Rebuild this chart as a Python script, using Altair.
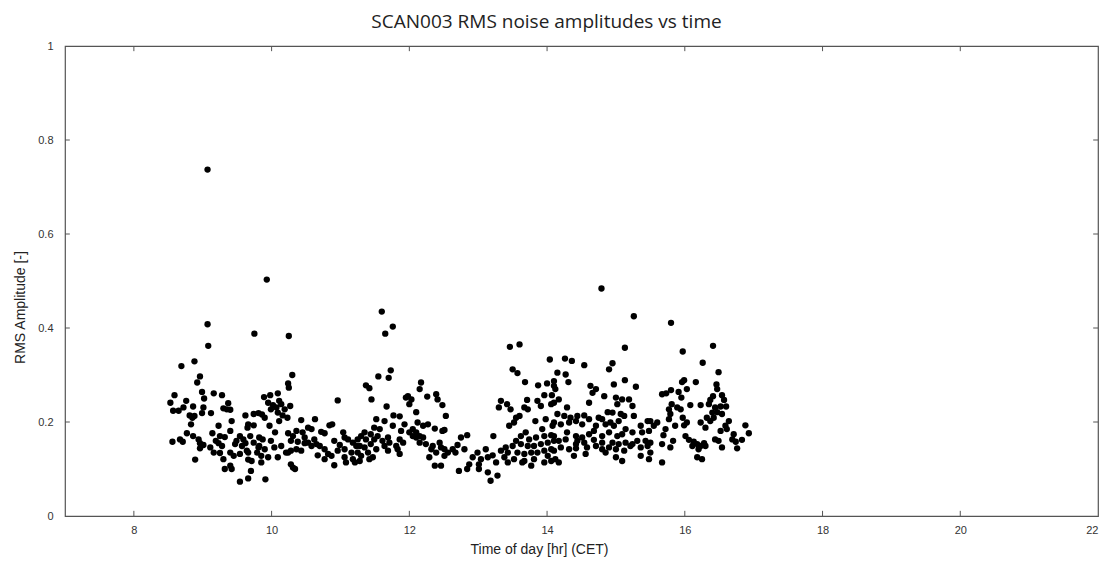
import altair as alt
import pandas as pd

# ---- data (time of day [hr], RMS amplitude [-]) ----
tA = [9.07, 9.07, 9.08, 9.75, 8.69, 8.88, 8.96, 8.92, 8.59, 8.53,
      8.99, 9.16, 9.28, 9.37, 8.76, 8.86, 9.02, 8.57, 8.65, 8.72,
      9.01, 8.99, 9.12, 9.30, 9.35, 9.40, 8.81, 8.85, 8.83, 8.88,
      9.62, 9.74, 9.81, 9.42, 9.66, 9.65, 9.74, 9.23, 9.14, 9.25,
      9.32, 9.40, 9.54, 9.59, 9.49, 9.47, 9.69, 8.77, 8.86, 8.94,
      8.96, 9.01, 8.56, 8.67, 8.71, 9.23, 9.28, 9.16, 9.25, 9.40,
      9.45, 9.57, 9.64, 9.54, 9.74, 9.81, 9.79, 9.66, 9.71, 9.30,
      9.40, 9.32, 9.42, 9.70, 9.66, 9.54, 8.89, 8.96, 9.11, 9.19,
      9.62, 9.66]
rA = [0.737, 0.408, 0.362, 0.388, 0.319, 0.329, 0.297, 0.284, 0.257, 0.241,
      0.264, 0.261, 0.257, 0.240, 0.245, 0.233, 0.250, 0.224, 0.224, 0.231,
      0.231, 0.219, 0.219, 0.229, 0.227, 0.226, 0.214, 0.209, 0.195, 0.213,
      0.214, 0.217, 0.219, 0.202, 0.195, 0.188, 0.193, 0.192, 0.176, 0.170,
      0.168, 0.181, 0.170, 0.163, 0.160, 0.153, 0.170, 0.176, 0.170, 0.163,
      0.155, 0.151, 0.158, 0.163, 0.158, 0.155, 0.149, 0.135, 0.134, 0.135,
      0.128, 0.149, 0.139, 0.132, 0.156, 0.146, 0.135, 0.120, 0.117, 0.121,
      0.107, 0.100, 0.100, 0.096, 0.080, 0.073, 0.120, 0.144, 0.146, 0.160,
      0.155, 0.135]

tB = [9.93, 10.25, 10.30, 10.24, 10.25, 9.89, 9.98, 10.09, 10.11, 9.95,
      10.02, 9.99, 10.07, 10.14, 10.19, 10.27, 10.09, 10.16, 10.23, 9.86,
      9.90, 10.11, 9.97, 10.96, 10.43, 10.63, 10.53, 10.84, 10.88, 10.05,
      10.24, 10.31, 10.36, 10.45, 10.58, 10.72, 10.77, 9.82, 9.87, 9.99,
      10.28, 10.38, 10.48, 10.62, 10.65, 10.70, 10.91, 11.04, 11.06, 10.99,
      11.11, 11.18, 11.23, 9.82, 9.90, 10.04, 10.14, 10.21, 10.28, 10.36,
      10.43, 10.58, 10.77, 10.82, 10.96, 11.06, 11.16, 9.85, 9.95, 10.09,
      10.24, 10.67, 10.77, 10.87, 11.06, 11.08, 11.18, 11.21, 9.85, 10.28,
      10.31, 10.34, 10.91, 9.91, 10.48, 10.53]
rB = [0.503, 0.383, 0.300, 0.282, 0.273, 0.253, 0.257, 0.261, 0.245, 0.241,
      0.236, 0.227, 0.231, 0.238, 0.227, 0.234, 0.220, 0.214, 0.209, 0.216,
      0.209, 0.202, 0.192, 0.246, 0.204, 0.206, 0.188, 0.193, 0.195, 0.178,
      0.176, 0.170, 0.181, 0.178, 0.185, 0.179, 0.176, 0.167, 0.163, 0.160,
      0.160, 0.158, 0.155, 0.163, 0.153, 0.149, 0.160, 0.178, 0.167, 0.151,
      0.163, 0.156, 0.149, 0.149, 0.142, 0.146, 0.149, 0.135, 0.139, 0.142,
      0.139, 0.149, 0.142, 0.132, 0.139, 0.142, 0.135, 0.128, 0.125, 0.125,
      0.135, 0.129, 0.121, 0.128, 0.125, 0.114, 0.121, 0.114, 0.114, 0.110,
      0.103, 0.100, 0.108, 0.078, 0.167, 0.156]

tC = [11.60, 11.76, 11.65, 11.73, 11.70, 11.55, 11.37, 11.42, 11.45, 12.17,
      12.15, 12.26, 11.98, 12.03, 11.95, 12.00, 12.39, 12.41, 12.48, 11.67,
      12.53, 12.10, 11.77, 11.86, 11.52, 11.64, 11.93, 11.88, 11.76, 12.12,
      12.20, 12.27, 12.37, 12.48, 12.51, 11.49, 11.57, 11.35, 11.44, 11.54,
      11.69, 12.00, 12.05, 12.10, 12.15, 12.20, 11.30, 11.25, 11.37, 11.49,
      11.61, 11.71, 11.86, 11.91, 12.15, 12.24, 12.34, 12.44, 12.46, 12.51,
      11.28, 11.35, 11.44, 11.52, 11.64, 11.69, 11.81, 11.86, 11.83, 12.32,
      12.39, 12.51, 12.56, 12.63, 11.25, 11.30, 11.40, 11.47, 11.42, 11.28,
      12.29, 12.37, 12.46, 12.05, 12.10]
rC = [0.435, 0.403, 0.388, 0.310, 0.294, 0.297, 0.278, 0.272, 0.248, 0.284,
      0.270, 0.254, 0.255, 0.248, 0.252, 0.238, 0.259, 0.248, 0.236, 0.233,
      0.213, 0.221, 0.214, 0.212, 0.206, 0.202, 0.195, 0.181, 0.192, 0.199,
      0.192, 0.195, 0.186, 0.181, 0.183, 0.188, 0.185, 0.178, 0.174, 0.170,
      0.167, 0.178, 0.170, 0.178, 0.170, 0.167, 0.170, 0.163, 0.163, 0.163,
      0.160, 0.156, 0.163, 0.156, 0.156, 0.153, 0.149, 0.156, 0.146, 0.142,
      0.149, 0.146, 0.153, 0.142, 0.149, 0.139, 0.149, 0.132, 0.142, 0.142,
      0.135, 0.128, 0.135, 0.142, 0.135, 0.128, 0.135, 0.125, 0.121, 0.117,
      0.125, 0.107, 0.107, 0.185, 0.167]

tD = [13.46, 13.60, 14.04, 13.50, 13.57, 13.68, 13.87, 14.00, 14.10, 13.96,
      14.07, 13.71, 13.86, 13.33, 13.30, 13.42, 13.47, 13.67, 13.72, 13.91,
      14.06, 13.55, 13.60, 13.45, 13.52, 13.83, 13.98, 13.22, 13.93, 14.08,
      12.84, 12.75, 12.70, 12.80, 12.67, 12.99, 13.11, 12.92, 13.04, 13.14,
      13.21, 13.33, 13.40, 13.43, 13.50, 13.55, 13.62, 13.69, 13.74, 13.84,
      13.96, 14.06, 13.62, 13.72, 13.81, 13.91, 14.01, 14.10, 13.57, 13.67,
      13.77, 13.86, 13.96, 14.06, 13.67, 13.81, 13.96, 14.06, 12.72, 12.84,
      13.01, 13.14, 13.18, 13.28, 13.43, 13.26, 12.87, 13.01, 13.64, 13.77,
      14.01, 13.52, 13.38]
rD = [0.360, 0.365, 0.333, 0.312, 0.304, 0.285, 0.278, 0.282, 0.287, 0.257,
      0.257, 0.247, 0.245, 0.245, 0.231, 0.238, 0.227, 0.231, 0.227, 0.234,
      0.238, 0.209, 0.213, 0.192, 0.199, 0.202, 0.206, 0.170, 0.185, 0.192,
      0.172, 0.167, 0.151, 0.142, 0.135, 0.135, 0.142, 0.125, 0.121, 0.125,
      0.129, 0.139, 0.146, 0.135, 0.149, 0.160, 0.170, 0.178, 0.163, 0.167,
      0.170, 0.172, 0.153, 0.149, 0.149, 0.153, 0.156, 0.160, 0.135, 0.132,
      0.135, 0.135, 0.139, 0.142, 0.117, 0.121, 0.114, 0.117, 0.096, 0.100,
      0.100, 0.093, 0.075, 0.086, 0.114, 0.114, 0.110, 0.110, 0.114, 0.107,
      0.128, 0.121, 0.125]

tE = [14.79, 15.26, 15.13, 14.95, 14.90, 14.54, 14.26, 14.36, 14.15, 14.27,
      14.31, 14.10, 14.12, 15.13, 15.29, 14.97, 14.63, 14.71, 14.83, 14.66,
      14.61, 14.17, 14.10, 14.29, 15.00, 15.09, 15.19, 15.02, 15.24, 14.95,
      15.07, 15.26, 14.15, 14.25, 14.34, 14.44, 14.54, 14.61, 14.75, 14.88,
      14.80, 14.71, 14.85, 15.04, 15.12, 14.92, 14.97, 15.14, 15.36, 15.46,
      14.10, 14.20, 14.32, 14.42, 14.51, 14.29, 14.42, 14.51, 14.61, 14.68,
      14.80, 14.90, 15.02, 15.09, 15.24, 15.38, 15.48, 14.10, 14.17, 14.27,
      14.44, 14.54, 14.68, 14.80, 14.95, 15.04, 15.14, 15.24, 15.31, 15.43,
      14.20, 14.32, 14.42, 14.58, 14.80, 14.90, 15.00, 15.12, 15.21, 15.36,
      15.46, 14.10, 14.12, 14.17, 14.39, 14.56, 14.85, 15.00, 15.09, 15.36,
      15.48, 14.42, 14.71]
rE = [0.484, 0.425, 0.358, 0.325, 0.312, 0.321, 0.335, 0.330, 0.305, 0.301,
      0.285, 0.277, 0.270, 0.289, 0.275, 0.280, 0.277, 0.270, 0.255, 0.262,
      0.241, 0.248, 0.241, 0.231, 0.252, 0.248, 0.248, 0.238, 0.234, 0.220,
      0.217, 0.213, 0.217, 0.213, 0.209, 0.213, 0.214, 0.206, 0.209, 0.221,
      0.206, 0.192, 0.195, 0.202, 0.213, 0.199, 0.192, 0.185, 0.192, 0.202,
      0.199, 0.195, 0.199, 0.202, 0.195, 0.178, 0.170, 0.167, 0.174, 0.181,
      0.170, 0.178, 0.170, 0.174, 0.178, 0.178, 0.181, 0.170, 0.160, 0.163,
      0.160, 0.156, 0.162, 0.156, 0.156, 0.153, 0.156, 0.153, 0.160, 0.160,
      0.146, 0.142, 0.144, 0.146, 0.142, 0.146, 0.142, 0.139, 0.149, 0.146,
      0.149, 0.139, 0.121, 0.114, 0.128, 0.132, 0.135, 0.125, 0.117, 0.128,
      0.121, 0.153, 0.149]

tF = [15.80, 16.41, 15.97, 16.26, 16.49, 15.99, 15.96, 16.16, 16.46, 16.47,
      15.67, 15.73, 15.80, 15.91, 16.03, 15.95, 16.41, 16.54, 16.37, 16.57,
      16.35, 15.81, 15.89, 16.08, 16.23, 15.77, 15.79, 15.94, 16.44, 16.52,
      16.60, 16.40, 16.47, 16.54, 16.32, 16.42, 15.77, 15.97, 16.03, 15.86,
      15.99, 16.64, 16.37, 16.23, 16.30, 16.59, 16.61, 16.52, 16.88, 16.93,
      15.72, 15.60, 15.55, 15.50, 15.69, 15.83, 16.01, 16.06, 16.13, 16.18,
      16.23, 16.28, 16.20, 15.67, 15.50, 16.44, 16.49, 16.69, 16.74, 16.83,
      16.76, 16.54, 15.79, 16.18, 16.25, 15.67, 15.50, 16.11, 16.30, 16.71]
rF = [0.411, 0.362, 0.350, 0.326, 0.306, 0.289, 0.285, 0.285, 0.280, 0.270,
      0.259, 0.261, 0.268, 0.264, 0.270, 0.252, 0.255, 0.257, 0.247, 0.247,
      0.238, 0.238, 0.231, 0.236, 0.236, 0.227, 0.217, 0.227, 0.231, 0.233,
      0.233, 0.220, 0.221, 0.217, 0.209, 0.209, 0.206, 0.209, 0.199, 0.192,
      0.193, 0.202, 0.202, 0.199, 0.188, 0.192, 0.185, 0.181, 0.193, 0.176,
      0.185, 0.199, 0.192, 0.202, 0.172, 0.160, 0.170, 0.162, 0.158, 0.153,
      0.149, 0.155, 0.142, 0.153, 0.156, 0.163, 0.160, 0.163, 0.158, 0.162,
      0.144, 0.146, 0.146, 0.125, 0.121, 0.114, 0.135, 0.149, 0.149, 0.174]

x_labels = [8, 10, 12, 14, 16, 18, 20, 22]
y_labels = [0, 0.2, 0.4, 0.6, 0.8, 1]
x_ticks = [8, 10, 12, 14, 16, 18, 20]
y_ticks = [0.2, 0.4, 0.6, 0.8]
x_domain = [7, 22]
y_domain = [0, 1]

df = pd.DataFrame({
    "time": tA + tB + tC + tD + tE + tF,
    "rms": rA + rB + rC + rD + rE + rF,
})
xt = pd.DataFrame({"time": x_ticks})
yt = pd.DataFrame({"rms": y_ticks})

xs = alt.Scale(domain=x_domain, nice=False, zero=False)
ys = alt.Scale(domain=y_domain, nice=False, zero=False)

x_axis = alt.Axis(values=x_labels, format="~g", title="Time of day [hr] (CET)",
                  titleX=474, titleY=33, titleBaseline="middle", labelPadding=8)
y_axis = alt.Axis(values=y_labels, format="~g", title="RMS Amplitude [-]",
                  titleX=-45, titleY=261, titleBaseline="middle", labelPadding=12)

FONT = "Liberation Sans"

points = alt.Chart(df).mark_circle(color="black", opacity=1, size=40).encode(
    x=alt.X("time:Q", scale=xs, axis=x_axis),
    y=alt.Y("rms:Q", scale=ys, axis=y_axis),
)

tick_len_x = 0.07   # in hours
tick_len_y = 0.011  # in amplitude units

bottom_ticks = alt.Chart(xt).mark_rule(color="#555").encode(
    x=alt.X("time:Q", scale=xs, axis=x_axis),
    y=alt.datum(y_domain[0]), y2=alt.datum(y_domain[0] + tick_len_y))
top_ticks = alt.Chart(xt).mark_rule(color="#555").encode(
    x=alt.X("time:Q", scale=xs, axis=x_axis),
    y=alt.datum(y_domain[1]), y2=alt.datum(y_domain[1] - tick_len_y))
left_ticks = alt.Chart(yt).mark_rule(color="#555").encode(
    y=alt.Y("rms:Q", scale=ys, axis=y_axis),
    x=alt.datum(x_domain[0]), x2=alt.datum(x_domain[0] + tick_len_x))
right_ticks = alt.Chart(yt).mark_rule(color="#555").encode(
    y=alt.Y("rms:Q", scale=ys, axis=y_axis),
    x=alt.datum(x_domain[1]), x2=alt.datum(x_domain[1] - tick_len_x))

chart = alt.layer(points, bottom_ticks, top_ticks, left_ticks, right_ticks).properties(
    width=1033, height=470,
    padding={"left": 5, "top": 5, "right": 5, "bottom": 5},
    title=alt.TitleParams("SCAN003 RMS noise amplitudes vs time", font="Open Sans",
                          fontSize=19, fontWeight="normal", color="#222",
                          frame="group", anchor="middle", offset=8, dx=-35),
).configure_view(stroke="#555", strokeWidth=1.2).configure_axis(
    grid=False, ticks=False, domain=False,
    labelFont=FONT, labelFontSize=11, labelColor="#333",
    titleFont=FONT, titleFontSize=14, titleFontWeight="normal", titleColor="#222",
)

chart.save("out.html", embed_options={"renderer": "svg", "actions": False})
